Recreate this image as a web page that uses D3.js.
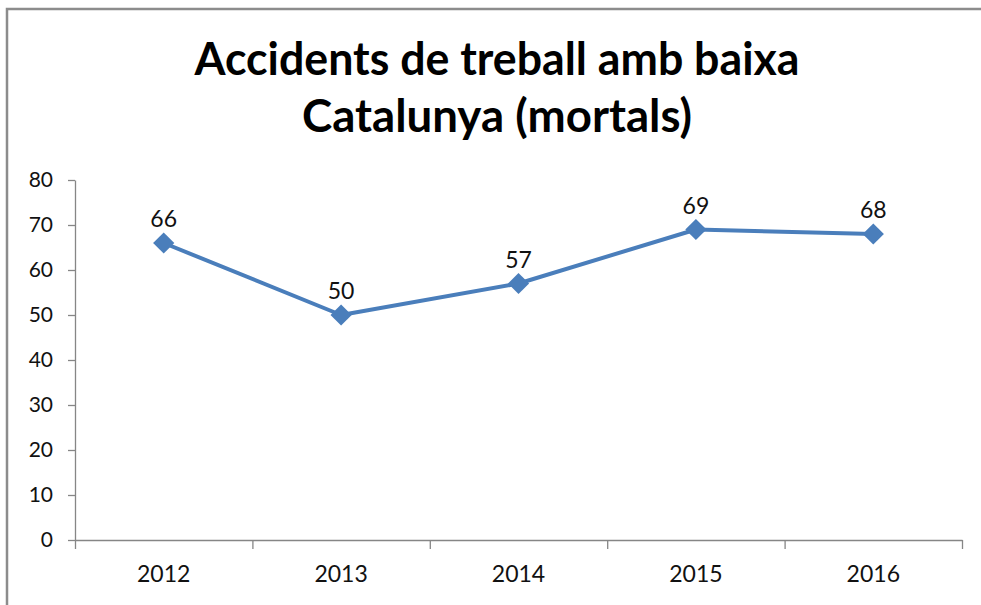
<!DOCTYPE html>
<html>
<head>
<meta charset="utf-8">
<script src="https://cdn.jsdelivr.net/npm/d3@7"></script>
<style>
  body { margin: 0; background: #fff; }
  svg { display: block; font-family: Lato, "Open Sans", sans-serif; }
</style>
</head>
<body>
<div id="chart"></div>
<script>
const years = ["2012", "2013", "2014", "2015", "2016"];
const deaths = [66, 50, 57, 69, 68];
const yTicks = [0, 10, 20, 30, 40, 50, 60, 70, 80];
const titleLines = ["Accidents de treball amb baixa", "Catalunya (mortals)"];

const W = 981, H = 605;
const margin = { top: 180, right: 19, bottom: 65, left: 75 };
const width = W - margin.left - margin.right;
const height = H - margin.top - margin.bottom;

const svg = d3.select("#chart").append("svg")
    .attr("width", W)
    .attr("height", H);

// chart frame (right/bottom edges fall outside the picture)
svg.append("rect")
    .attr("x", 7).attr("y", 9)
    .attr("width", W + 20).attr("height", H + 20)
    .attr("fill", "none")
    .attr("stroke", "#8c8c8c")
    .attr("stroke-width", 2.5);

// title
svg.append("text")
    .attr("x", 497).attr("y", 75)
    .attr("text-anchor", "middle")
    .attr("textLength", 605).attr("lengthAdjust", "spacingAndGlyphs")
    .style("font-size", "45px").style("font-weight", "bold").style("fill", "#000")
    .text(titleLines[0]);
svg.append("text")
    .attr("x", 497).attr("y", 132)
    .attr("text-anchor", "middle")
    .attr("textLength", 390).attr("lengthAdjust", "spacingAndGlyphs")
    .style("font-size", "45px").style("font-weight", "bold").style("fill", "#000")
    .text(titleLines[1]);

const g = svg.append("g")
    .attr("transform", `translate(${margin.left},${margin.top})`);

const x = d3.scaleBand().domain(years).range([0, width]);
const xEdge = d3.scaleLinear().domain([0, years.length]).range([0, width]);
const y = d3.scaleLinear().domain([0, 80]).range([height, 0]);

// y axis
const yAxis = g.append("g")
    .call(d3.axisLeft(y).tickValues(yTicks).tickSize(7).tickSizeOuter(0).tickPadding(15));
yAxis.selectAll("path, line").attr("stroke", "#868686").attr("stroke-width", 1.3);
yAxis.selectAll("text").style("font-size", "21px").style("fill", "#111")
    .style("font-family", "Lato, sans-serif");

// x axis: boundary ticks
const xAxis = g.append("g")
    .attr("transform", `translate(0,${height})`)
    .call(d3.axisBottom(xEdge).tickValues(d3.range(years.length + 1)).tickSize(9).tickSizeOuter(0).tickFormat(""));
xAxis.selectAll("path, line").attr("stroke", "#868686").attr("stroke-width", 1.3);

// x axis: labels centred in bands
const xLab = g.append("g")
    .attr("transform", `translate(0,${height})`)
    .call(d3.axisBottom(x).tickSize(0).tickPadding(26));
xLab.select(".domain").remove();
xLab.selectAll("text").style("font-size", "23px").style("fill", "#111")
    .style("font-family", "Lato, sans-serif");

const pts = years.map((d, i) => ({ year: d, value: deaths[i] }));

const line = d3.line()
    .x(d => x(d.year) + x.bandwidth() / 2)
    .y(d => y(d.value));

g.append("path")
    .datum(pts)
    .attr("d", line)
    .attr("fill", "none")
    .attr("stroke", "#4a7ebb")
    .attr("stroke-width", 4)
    .attr("stroke-linejoin", "round");

g.selectAll(".marker")
    .data(pts)
    .enter().append("path")
    .attr("class", "marker")
    .attr("transform", d => `translate(${x(d.year) + x.bandwidth() / 2},${y(d.value)}) rotate(45)`)
    .attr("d", "M-7.5,-7.5H7.5V7.5H-7.5Z")
    .attr("fill", "#4a7ebb");

g.selectAll(".label")
    .data(pts)
    .enter().append("text")
    .attr("class", "label")
    .attr("x", d => x(d.year) + x.bandwidth() / 2)
    .attr("y", d => y(d.value) - 16)
    .attr("text-anchor", "middle")
    .style("font-size", "23px")
    .style("fill", "#111")
    .text(d => d.value);
</script>
</body>
</html>
